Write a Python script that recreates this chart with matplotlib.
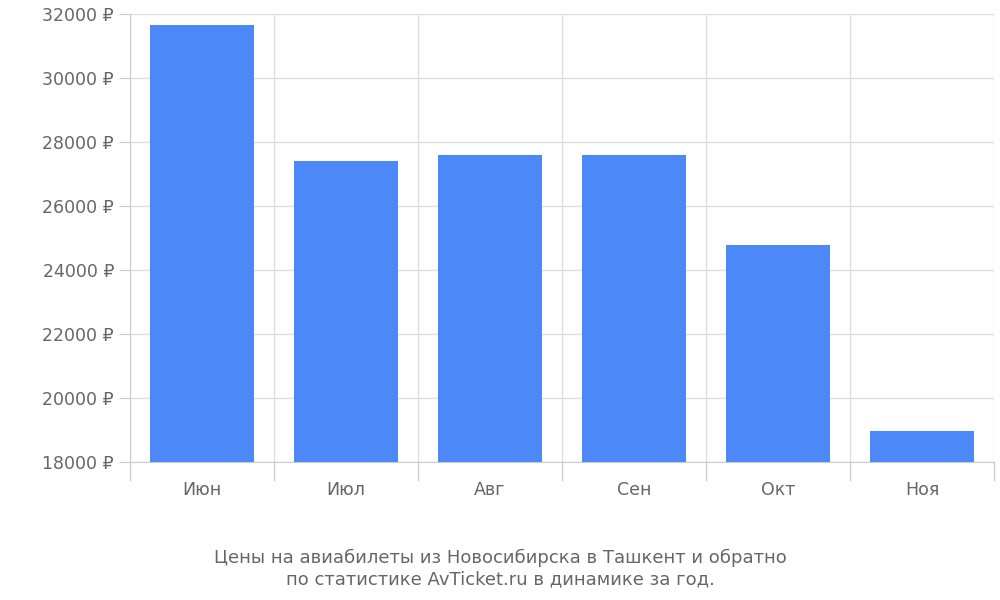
import matplotlib
matplotlib.use("Agg")
import matplotlib.pyplot as plt

categories = ["Июн", "Июл", "Авг", "Сен", "Окт", "Ноя"]
values = [31650, 27420, 27580, 27580, 24780, 18970]
yticks = list(range(18000, 32001, 2000))

fig = plt.figure(figsize=(10, 6), dpi=100)
ax = fig.add_axes([0.13, 0.23, 0.864, 0.7467])
x = list(range(len(categories)))
ax.bar(x, [v - 18000 for v in values], bottom=18000, width=0.72, color="#4d88f9", zorder=3)
ax.set_xlim(-0.5, len(categories) - 0.5)
ax.set_ylim(18000, 32000)
ax.set_yticks(yticks)
ax.set_yticklabels([f"{t} ₽" for t in yticks], fontsize=12.5, color="#666666")
ax.set_xticks(x)
ax.set_xticklabels(categories, fontsize=12.5, color="#666666")
ax.tick_params(axis="x", length=0, pad=14)
ax.tick_params(axis="y", length=8, color="#cccccc")
ax.grid(axis="y", color="#dddddd", lw=1, zorder=0)
for i in range(len(categories) + 1):
    ax.plot([i - 0.5, i - 0.5], [18000, 32000], color="#dddddd", lw=1, zorder=0)
    ax.plot([i - 0.5, i - 0.5], [18000, 17440], color="#cccccc", lw=1, clip_on=False)
for s in ["top", "right"]:
    ax.spines[s].set_visible(False)
ax.spines["left"].set_color("#cccccc")
ax.spines["bottom"].set_color("#cccccc")
fig.text(0.5, 0.02, "Цены на авиабилеты из Новосибирска в Ташкент и обратно\nпо статистике AvTicket.ru в динамике за год.",
         ha="center", va="bottom", fontsize=13, color="#666666", linespacing=1.2)
fig.savefig("out.png")
